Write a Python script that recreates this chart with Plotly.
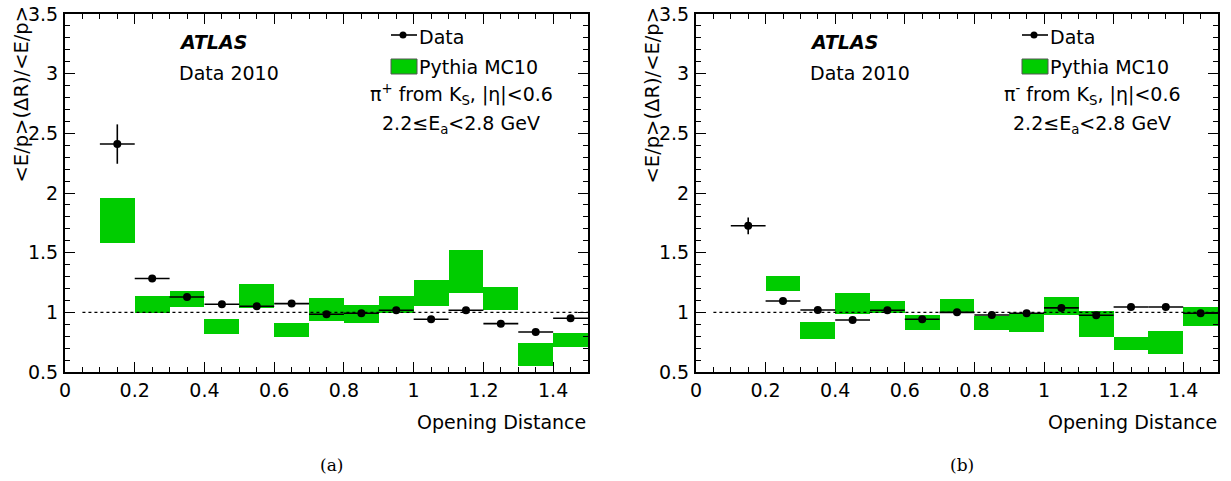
import plotly.graph_objects as go

# ---------------- data ----------------
bin_centers = [0.15, 0.25, 0.35, 0.45, 0.55, 0.65, 0.75, 0.85, 0.95, 1.05, 1.15, 1.25, 1.35, 1.45]
bin_half_width = [0.05] * 14

# panel (a): pi+ from K_S
data_a = [2.41, 1.283, 1.129, 1.068, 1.051, 1.073, 0.984, 0.992, 1.017, 0.942, 1.017, 0.905, 0.835, 0.950]
data_a_err = [0.165, 0.012, 0.012, 0.01, 0.01, 0.01, 0.012, 0.01, 0.012, 0.01, 0.012, 0.01, 0.012, 0.012]
mc_a_top = [1.957, 1.137, 1.179, 0.942, 1.235, 0.911, 1.121, 1.062, 1.137, 1.269, 1.523, 1.213, 0.740, 0.827]
mc_a_bot = [1.585, 0.998, 1.045, 0.816, 1.040, 0.796, 0.928, 0.914, 0.998, 1.054, 1.163, 1.020, 0.550, 0.710]

# panel (b): pi- from K_S (no MC box in first bin)
data_b = [1.725, 1.095, 1.020, 0.936, 1.017, 0.942, 1.000, 0.978, 0.992, 1.037, 0.975, 1.045, 1.045, 0.992]
data_b_err = [0.07, 0.01, 0.01, 0.01, 0.01, 0.01, 0.01, 0.01, 0.01, 0.012, 0.01, 0.01, 0.01, 0.012]
mc_b_centers = [0.25, 0.35, 0.45, 0.55, 0.65, 0.75, 0.85, 0.95, 1.05, 1.15, 1.25, 1.35, 1.45]
mc_b_top = [1.302, 0.919, 1.163, 1.095, 0.978, 1.109, 0.970, 0.984, 1.129, 1.012, 0.794, 0.844, 1.045]
mc_b_bot = [1.179, 0.780, 0.984, 0.998, 0.852, 1.006, 0.852, 0.835, 0.975, 0.796, 0.687, 0.654, 0.886]

x_tickvals = [0, 0.2, 0.4, 0.6, 0.8, 1.0, 1.2, 1.4]
x_ticktext = ["0", "0.2", "0.4", "0.6", "0.8", "1", "1.2", "1.4"]
y_tickvals = [0.5, 1, 1.5, 2, 2.5, 3, 3.5]
y_ticktext = ["0.5", "1", "1.5", "2", "2.5", "3", "3.5"]

GREEN = "#00cc00"
FONT = "DejaVu Sans"
FS = 19

W = 1231
H = 481

def px(p):
    return p / W

def py(p):
    return 1 - p / H

fig = go.Figure()

def add_panel(xa, ya, mc_x, mc_top, mc_bot, dvals, derr):
    fig.add_trace(go.Bar(
        x=mc_x, y=[t - b for t, b in zip(mc_top, mc_bot)], base=mc_bot,
        width=0.1, marker=dict(color=GREEN, line=dict(width=0)),
        xaxis=xa, yaxis=ya, showlegend=False, hoverinfo="skip"))
    fig.add_trace(go.Scatter(
        x=bin_centers, y=dvals, mode="markers",
        marker=dict(color="black", size=8),
        error_x=dict(type="data", array=bin_half_width, color="black", thickness=1.6, width=0),
        error_y=dict(type="data", array=derr, color="black", thickness=1.6, width=0),
        xaxis=xa, yaxis=ya, showlegend=False, hoverinfo="skip"))
    fig.add_shape(type="line", xref=xa, yref=ya, x0=0.05, x1=1.5, y0=1, y1=1,
                  line=dict(color="black", width=1.4, dash="dot"), layer="above")

add_panel("x", "y", bin_centers, mc_a_top, mc_a_bot, data_a, data_a_err)
add_panel("x2", "y2", mc_b_centers, mc_b_top, mc_b_bot, data_b, data_b_err)

ydom = [py(372), py(14)]
xdom_a = [px(65), px(588)]
xdom_b = [px(696), px(1218)]

def xaxis_cfg(dom, anchor):
    return dict(domain=dom, anchor=anchor, range=[0, 1.5], tickvals=x_tickvals, ticktext=x_ticktext,
                ticks="inside", ticklen=10, tickwidth=1.3, tickcolor="black",
                minor=dict(dtick=0.05, tick0=0, ticks="inside", ticklen=5, tickwidth=1.3, tickcolor="black"),
                showline=True, linecolor="black", linewidth=2, mirror="allticks",
                showgrid=False, zeroline=False, automargin=False, ticklabeloverflow="allow",
                tickfont=dict(family=FONT, size=FS, color="black"))

def yaxis_cfg(anchor):
    return dict(domain=ydom, anchor=anchor, range=[0.5, 3.5], tickvals=y_tickvals, ticktext=y_ticktext,
                ticks="inside", ticklen=10, tickwidth=1.3, tickcolor="black",
                minor=dict(dtick=0.1, tick0=0.5, ticks="inside", ticklen=5, tickwidth=1.3, tickcolor="black"),
                showline=True, linecolor="black", linewidth=2, mirror="allticks",
                showgrid=False, zeroline=False, ticklabelstandoff=1, automargin=False,
                ticklabeloverflow="allow",
                tickfont=dict(family=FONT, size=FS, color="black"))

fig.update_layout(
    width=W, height=H, autosize=False,
    margin=dict(l=0, r=0, t=0, b=0, pad=0, autoexpand=False),
    paper_bgcolor="white", plot_bgcolor="white", bargap=0,
    xaxis=xaxis_cfg(xdom_a, "y"), yaxis=yaxis_cfg("x"),
    xaxis2=xaxis_cfg(xdom_b, "y2"), yaxis2=yaxis_cfg("x2"),
    showlegend=False,
)

annotations = []
def panel_texts(x0, pi_text, letter):
    # x0: left pixel of panel plot area (window coordinates)
    def txt(x, y, text, xa="left", size=FS, family=FONT, angle=0, ya="middle"):
        annotations.append(dict(x=px(x), y=py(y), xref="paper", yref="paper", text=text,
                                textangle=angle, xanchor=xa, yanchor=ya, showarrow=False,
                                font=dict(family=family, size=size, color="black")))
    txt(x0 - 44, 4, "<E/p>(ΔR)/<E/p>", xa="center", ya="top", angle=-90, size=19.5)
    txt(x0 + 523, 422, "Opening Distance", xa="right")
    txt(x0 + 112, 42, "<b><i>ATLAS</i></b>")
    txt(x0 + 112, 73, "Data 2010")
    txt(x0 + 352, 37, "Data")
    txt(x0 + 352, 67, "Pythia MC10")
    txt(x0 + 396, 94, pi_text, xa="center")
    txt(x0 + 396, 124, "2.2≤E<sub>a</sub><2.8 GeV", xa="center")
    txt(x0 + 266, 465, letter, xa="center", size=17, family="DejaVu Serif")
    # legend symbols
    fig.add_shape(type="line", xref="paper", yref="paper", x0=px(x0 + 326), x1=px(x0 + 352),
                  y0=py(35), y1=py(35), line=dict(color="black", width=1.6))
    fig.add_shape(type="circle", xref="paper", yref="paper", x0=px(x0 + 334.5), x1=px(x0 + 341.5),
                  y0=py(31.5), y1=py(38.5), fillcolor="black", line=dict(color="black", width=0))
    fig.add_shape(type="rect", xref="paper", yref="paper", x0=px(x0 + 326), x1=px(x0 + 352),
                  y0=py(59), y1=py(74), fillcolor=GREEN, line=dict(color="#555555", width=1))

panel_texts(65, "π<sup>+</sup> from K<sub>S</sub>, |η|<0.6", "(a)")
panel_texts(696, "π<sup>-</sup> from K<sub>S</sub>, |η|<0.6", "(b)")

fig.update_layout(annotations=annotations)
# remove the browser's default 8px page margin so the figure fills the window exactly
fig.write_html("out.html", config={"displayModeBar": False},
               post_script="document.body.style.margin='0';document.body.style.overflow='hidden';")
